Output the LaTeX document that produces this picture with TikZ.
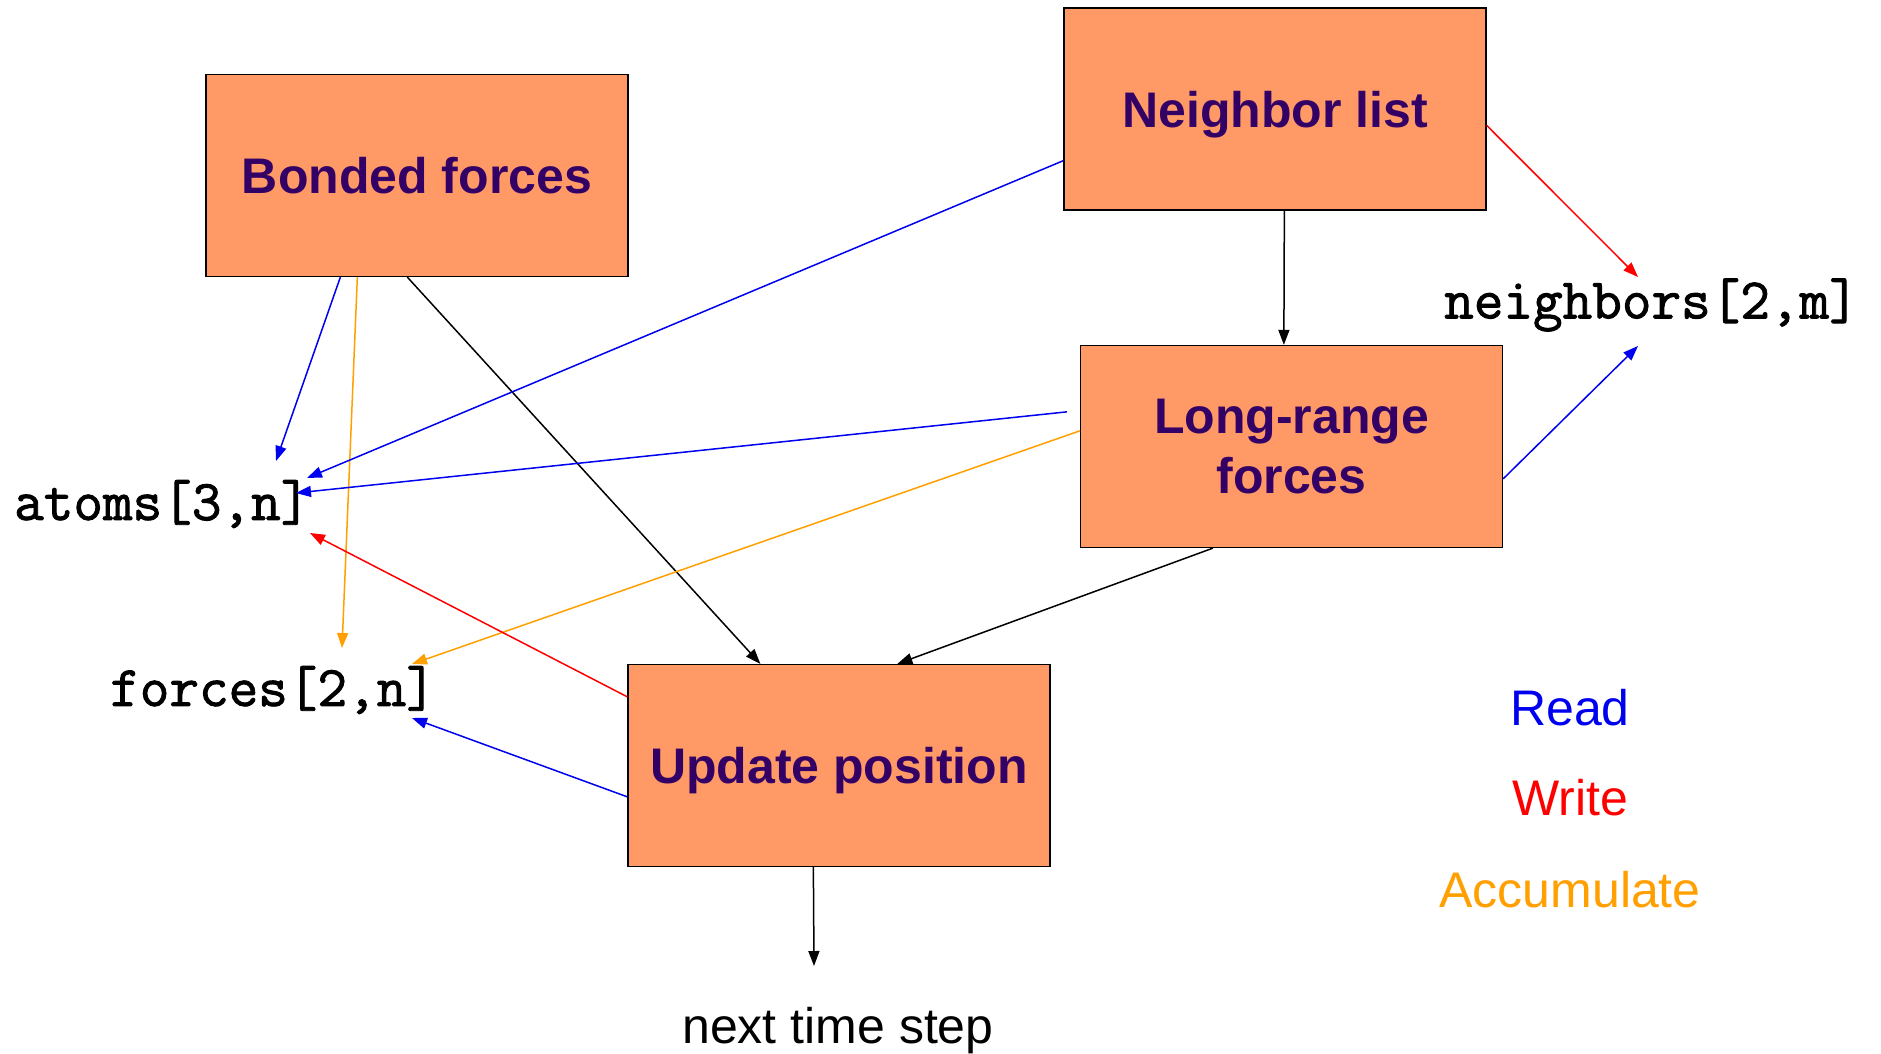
\documentclass[tikz,border=0pt]{standalone}
\usepackage{fontspec}
\setmainfont{Liberation Sans}
\newfontfamily\arraymono[FakeBold=1.6]{Latin Modern Mono}
\usetikzlibrary{arrows.meta,calc}

\definecolor{boxfill}{HTML}{FF9966}
\definecolor{boxtext}{HTML}{330066}
\definecolor{readc}{HTML}{0000F0}
\definecolor{writec}{HTML}{FF0000}
\definecolor{accc}{HTML}{FFA000}

\tikzset{
  stage/.style={draw=black, line width=1.3pt, fill=boxfill, minimum width=422pt,
    minimum height=202pt, inner sep=0pt, align=center, text=boxtext, text depth=0pt,
    font=\fontsize{50}{60}\selectfont\bfseries},
  arr/.style={line width=1.5pt, text=black,
    -{Triangle[length=15pt,width=11pt]}},
  flow/.style={arr, draw=black},
  rd/.style={arr, draw=readc},
  wr/.style={arr, draw=writec},
  acc/.style={arr, draw=accc},
  data/.style={inner sep=0pt, anchor=west, font=\fontsize{57.5}{60}\selectfont\arraymono},
  plain/.style={inner sep=0pt, font=\fontsize{50}{56}\selectfont}
}

\begin{document}
\begin{tikzpicture}[x=1pt, y=-1pt]
  \useasboundingbox[fill=white] (0,0) rectangle (1881,1054);

  % processing stages
  \node[stage] (bonded) at (417,175.5) {Bonded forces};
  \node[stage] (nbr)    at (1275,109)  {Neighbor list};
  \node[stage] (lr)     at (1291.5,446.5) {Long-range\\forces};
  \node[stage] (update) at (839,765.5) {Update position};

  % data arrays
  \node[data] (atoms)  at (14,504)   {atoms[3,n]};
  \node[data] (forces) at (110,690)  {forces[2,n]};
  \node[data] (nbrs)   at (1444,305) {neighbors[2,m]};

  % next step
  \node[plain] (next) at (838,1031) {next time step};

  % legend
  \node[plain, text=readc]  (lgread)  at (1570,708) {Read};
  \node[plain, text=writec] (lgwrite) at (1570,798) {Write};
  \node[plain, text=accc]   (lgacc)   at (1570,890) {Accumulate};

  % arrow end points next to the array names
  \coordinate (atomsTop)   at (276,461);
  \coordinate (atomsNbr)   at (307,478);
  \coordinate (atomsLr)    at (296,493);
  \coordinate (atomsUpd)   at (310,533);
  \coordinate (forcesTop)  at (342,648);
  \coordinate (forcesLr)   at (412,664);
  \coordinate (forcesUpd)  at (412,718);
  \coordinate (nbrsTop)    at (1638,277);
  \coordinate (nbrsBot)    at (1638,346);
  \coordinate (nextTop)    at (814,966);

  % bonded forces
  \draw[rd]  ($(bonded.south west)+(135,0)$) -- (atomsTop);
  \draw[acc] ($(bonded.south west)+(152,0)$) -- (forcesTop);
  \draw[flow] ($(bonded.south west)+(202,0)$) -- ($(update.north west)+(133,0)$);

  % neighbor list
  \draw[rd] ($(nbr.south west)+(0,-50)$) -- (atomsNbr);
  \draw[flow] ($(nbr.south west)+(221,0)$) -- ($(lr.north west)+(204,0)$);
  \draw[wr] ($(nbr.north east)+(0,118)$) -- (nbrsTop);

  % long-range forces
  \draw[rd]  ($(lr.north west)+(-13,67)$) -- (atomsLr);
  \draw[acc] ($(lr.north west)+(0,86)$) -- (forcesLr);
  \draw[flow] ($(lr.south west)+(133,0)$) -- ($(update.north west)+(270,0)$);
  \draw[rd]  ($(lr.north east)+(0,134)$) -- (nbrsBot);

  % update position
  \draw[wr] ($(update.north west)+(0,33)$) -- (atomsUpd);
  \draw[rd] ($(update.north west)+(0,133)$) -- (forcesUpd);
  \draw[flow] ($(update.south west)+(186,0)$) -- (nextTop);
\end{tikzpicture}
\end{document}
